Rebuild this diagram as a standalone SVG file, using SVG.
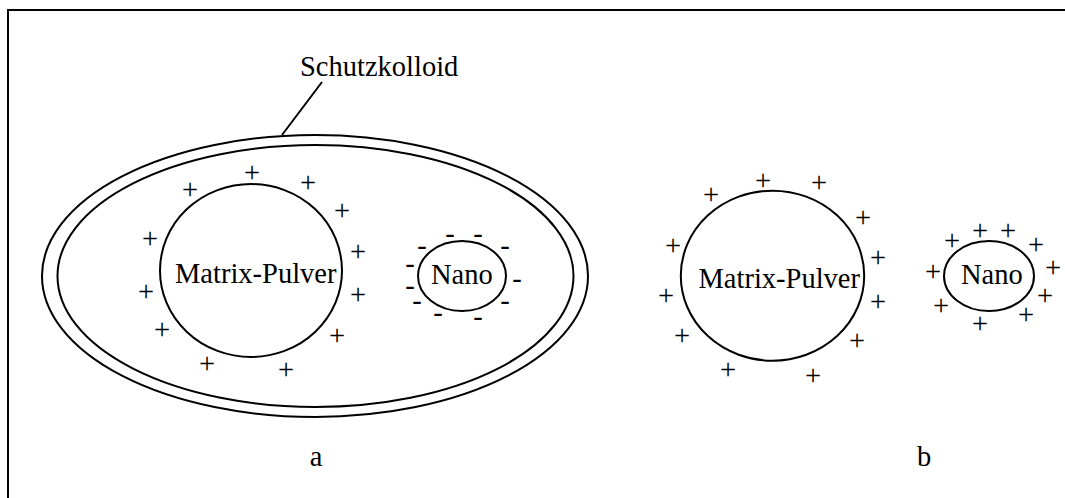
<svg xmlns="http://www.w3.org/2000/svg" width="1065" height="498" viewBox="0 0 1065 498">
<style>
.t{font-family:'Liberation Serif',serif;font-size:28.5px;fill:#000}
.c{text-anchor:middle}
.s{fill:none;stroke:#000;stroke-width:2}
</style>
<rect width="1065" height="498" fill="#fff"/>
<path class="s" d="M8,498 V10 H1065"/>
<g font-family="Liberation Serif, serif" class="t">
<g id="schutzkolloid">
<ellipse class="s" cx="315" cy="276" rx="273" ry="141"/>
<ellipse class="s" cx="315.5" cy="276" rx="258" ry="131"/>
<text x="300" y="76">Schutzkolloid</text>
</g>
<g id="connectors">
<line class="s" x1="322" y1="82" x2="282" y2="135"/>
</g>
<g id="matrix-a">
<ellipse class="s" cx="251" cy="270.5" rx="91" ry="86.5"/>
<text x="175" y="283">Matrix-Pulver</text>
<g class="c">
<text x="252" y="182">+</text>
<text x="190" y="199">+</text>
<text x="308" y="192">+</text>
<text x="342" y="220">+</text>
<text x="150" y="248">+</text>
<text x="358" y="261">+</text>
<text x="146" y="301">+</text>
<text x="358" y="304">+</text>
<text x="162" y="339">+</text>
<text x="337" y="345">+</text>
<text x="207" y="373">+</text>
<text x="286" y="379">+</text>
</g>
</g>
<g id="nano-a">
<ellipse class="s" cx="462" cy="276" rx="44" ry="35"/>
<text x="431" y="284">Nano</text>
<g class="c">
<text x="422" y="254.5">-</text>
<text x="450" y="243">-</text>
<text x="478" y="243">-</text>
<text x="505" y="254.5">-</text>
<text x="410" y="273">-</text>
<text x="517" y="288">-</text>
<text x="410" y="294.5">-</text>
<text x="417" y="309.5">-</text>
<text x="505" y="310">-</text>
<text x="438" y="322">-</text>
<text x="478" y="326">-</text>
</g>
</g>
<g id="matrix-b">
<ellipse class="s" cx="772.5" cy="275.7" rx="91.7" ry="85"/>
<text x="698.5" y="288">Matrix-Pulver</text>
<g class="c">
<text x="763" y="190">+</text>
<text x="819" y="192">+</text>
<text x="711" y="204">+</text>
<text x="863" y="227">+</text>
<text x="673" y="255">+</text>
<text x="878" y="267">+</text>
<text x="666" y="305">+</text>
<text x="878" y="311">+</text>
<text x="682" y="345">+</text>
<text x="857" y="350">+</text>
<text x="728" y="379">+</text>
<text x="813" y="385">+</text>
</g>
</g>
<g id="nano-b">
<ellipse class="s" cx="989" cy="276" rx="45" ry="35"/>
<text x="961" y="284">Nano</text>
<g class="c">
<text x="980" y="240">+</text>
<text x="1008" y="240">+</text>
<text x="952" y="250">+</text>
<text x="1036" y="254">+</text>
<text x="933" y="281">+</text>
<text x="1053" y="277">+</text>
<text x="1045" y="305">+</text>
<text x="941" y="315">+</text>
<text x="1026" y="324">+</text>
<text x="980" y="333">+</text>
</g>
</g>
<g id="labels">
<text class="c" x="316" y="466">a</text>
<text class="c" x="924" y="466">b</text>
</g>
</g>
</svg>
